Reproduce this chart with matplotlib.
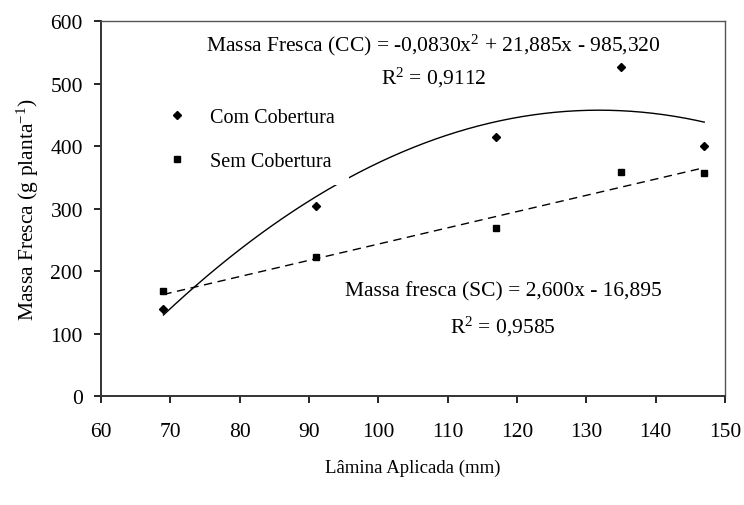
import matplotlib
matplotlib.use("Agg")
import matplotlib.pyplot as plt
import numpy as np

plt.rcParams['font.family'] = ['Liberation Serif', 'DejaVu Serif']
plt.rcParams['mathtext.fontset'] = 'custom'
plt.rcParams['mathtext.rm'] = 'Liberation Serif'
plt.rcParams['mathtext.it'] = 'Liberation Serif:italic'

# data
lamina = [69, 91, 117, 135, 147]
com_cobertura = [140, 304, 414, 526, 400]
sem_cobertura = [168, 222, 269, 359, 357]

# regression coefficients printed on the chart
cc_coef = [-0.0830, 21.885, -985.320]
sc_coef = [2.600, -16.895]

fig = plt.figure(figsize=(7.44, 5.06), dpi=100)
ax = fig.add_axes([0.1358, 0.2154, 0.8387, 0.7411])

xs = np.linspace(min(lamina), max(lamina), 200)
ax.plot(xs, np.polyval(cc_coef, xs), color='black', lw=1.0, zorder=1)
ax.plot(xs, np.polyval(sc_coef, xs), color='black', lw=1.0,
        dashes=(6, 4), zorder=1)

ax.plot(lamina, com_cobertura, 'D', color='black', ms=4.2, ls='none',
        label='Com Cobertura', zorder=3)
ax.plot(lamina, sem_cobertura, 's', color='black', ms=4.2, ls='none',
        label='Sem Cobertura', zorder=3)

# legend has a white box that hides a bit of the curve
leg = ax.legend(loc='lower right', bbox_to_anchor=(95.7, 338),
                bbox_transform=ax.transData, borderaxespad=0,
                fontsize=14.5, frameon=True, facecolor='white',
                edgecolor='none', framealpha=1, labelspacing=1.2,
                handletextpad=1.0, handlelength=1.2, borderpad=0.7)
leg.set_zorder(2)

ax.text(108, 563, 'Massa Fresca (CC) = -0,0830x$^{2}$ + 21,885x - 985,320',
        ha='center', va='center', fontsize=15.5)
ax.text(108, 510, 'R$^{2}$ = 0,9112', ha='center', va='center', fontsize=15.5)
ax.text(118, 168, 'Massa fresca (SC) = 2,600x - 16,895',
        ha='center', va='center', fontsize=15.5)
ax.text(118, 112, 'R$^{2}$ = 0,9585', ha='center', va='center', fontsize=15.5)

ax.set_xlim(60, 150)
ax.set_ylim(0, 600)
ax.set_xticks(range(60, 151, 10))
ax.set_yticks(range(0, 601, 100))
ax.tick_params(labelsize=15.5, length=5, width=1.2, direction='out')
ax.tick_params(axis='x', pad=14)
ax.tick_params(axis='y', pad=8)

for s in ['left', 'bottom']:
    ax.spines[s].set_linewidth(1.4)
    ax.spines[s].set_color('#333333')
for s in ['top', 'right']:
    ax.spines[s].set_linewidth(1.0)
    ax.spines[s].set_color('#555555')

ax.set_ylabel('Massa Fresca (g planta$^{\\mathregular{-1}}$)', fontsize=15.5)
ax.yaxis.set_label_coords(-0.097, 0.5)
ax.set_xlabel('Lâmina Aplicada (mm)', fontsize=13.5, va='top')
ax.xaxis.set_label_coords(0.5, -0.168)

fig.savefig('out.png', dpi=100)
